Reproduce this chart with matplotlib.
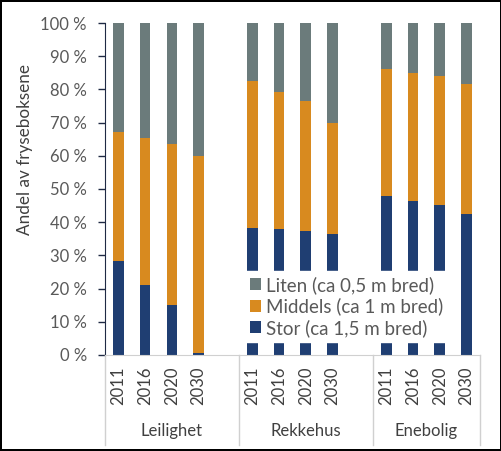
import numpy as np
import matplotlib
matplotlib.use('Agg')
import matplotlib.pyplot as plt
from matplotlib.transforms import blended_transform_factory

plt.rcParams['font.family'] = ['Lato', 'DejaVu Sans']

# data (andel i %)
grupper = ['Leilighet', 'Rekkehus', 'Enebolig']
aar = ['2011', '2016', '2020', '2030']
stor = [28.3, 21.1, 15.1, 0.7,
        38.3, 37.8, 37.4, 36.5,
        47.9, 46.4, 45.3, 42.5]
middels_topp = [67.2, 65.5, 63.6, 60.0,
                82.6, 79.3, 76.6, 70.0,
                86.1, 85.0, 84.1, 81.7]
middels = [m - s for m, s in zip(middels_topp, stor)]
liten = [100 - m for m in middels_topp]

c_liten = '#6B7B7B'
c_middels = '#D88A1F'
c_stor = '#1F3E72'

fig = plt.figure(figsize=(5.02, 4.51), dpi=100)
fig.patch.set_edgecolor('black')
fig.patch.set_linewidth(1.5)
ax = fig.add_axes([0.209, 0.213, 0.747, 0.736])

# plasser: 4 stolper + ett tomt felt per gruppe
x = []
for g in range(3):
    x += [g * 5 + i for i in range(4)]
x = np.array(x)
w = 0.4
ax.bar(x, stor, w, color=c_stor, label='Stor (ca 1,5 m bred)', zorder=2)
ax.bar(x, middels, w, bottom=stor, color=c_middels, label='Middels (ca 1 m bred)', zorder=2)
ax.bar(x, liten, w, bottom=middels_topp, color=c_liten, label='Liten (ca 0,5 m bred)', zorder=2)

ax.set_xlim(-0.5, 13.5)
ax.set_ylim(0, 100)
ax.set_yticks(range(0, 101, 10))
ax.set_yticklabels(['%d %%' % v for v in range(0, 101, 10)], fontsize=12, color='#595959')
ax.tick_params(axis='y', length=5, width=1, color='#1F2A44', pad=8)
ax.set_xticks([])
for s in ['top', 'right']:
    ax.spines[s].set_visible(False)
ax.spines['left'].set_color('#1F2A44')
ax.spines['bottom'].set_color('#D0D0D0')
ax.set_ylabel('Andel av fryseboksene', fontsize=12.3, color='#404040')
ax.yaxis.set_label_coords(-0.192, 0.62)

# kategoriakse med to nivåer
tr = blended_transform_factory(ax.transData, ax.transAxes)
for xi, a in zip(x, aar * 3):
    ax.text(xi, -0.035, a, rotation=90, ha='center', va='top', fontsize=12,
            color='#404040', transform=tr)
for g, navn in enumerate(grupper):
    sluttx = min(g * 5 + 4.5, 13.5)
    midt = (g * 5 - 0.5 + sluttx) / 2
    ax.text(midt, -0.205, navn, ha='center', va='top', fontsize=12,
            color='#404040', transform=tr)
for sx in [-0.5, 4.5, 9.5, 13.5]:
    ax.plot([sx, sx], [0, -0.27], color='#D0D0D0', lw=1, transform=tr, clip_on=False)

h, l = ax.get_legend_handles_labels()
leg = ax.legend(h[::-1], l[::-1], loc='lower left', bbox_to_anchor=(0.375, 0.04),
                fontsize=13.5, frameon=True, fancybox=False, edgecolor='white',
                framealpha=1, handlelength=0.6, handleheight=0.6, handletextpad=0.25,
                labelspacing=0.2, borderpad=0.25, borderaxespad=0)
for t in leg.get_texts():
    t.set_color('#595959')
leg.set_zorder(5)

plt.savefig('out.png', dpi=100)
